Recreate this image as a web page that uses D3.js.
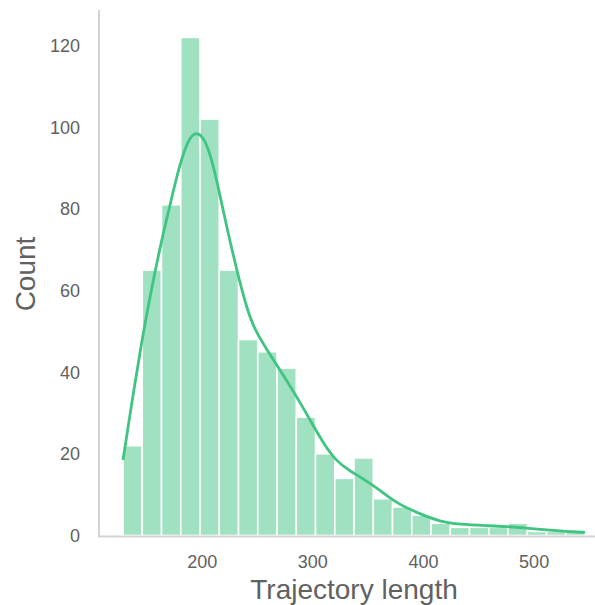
<!DOCTYPE html>
<meta charset="utf-8">

<!-- Load d3.js -->
<script src="https://d3js.org/d3.v7.min.js"></script>

<!-- Create a div where the graph will take place -->
<div id="my_dataviz"></div>

<style>
  body { margin: 0; background: #fff; }
  #my_dataviz { font-family: 'Liberation Sans', Arial, Helvetica, sans-serif; }
  .tick-label { fill: #616161; font-size: 18px; }
  .axis-title { fill: #616161; font-size: 28px; }
</style>

<script>

// histogram bins (trajectory length)
var binStart = 128.4
var binWidth = 17.4
var counts = [22, 65, 81, 122, 102, 65, 48, 45, 41, 29, 20, 14,
              19, 9, 7, 5, 3, 2, 2, 2, 3, 1, 1, 1]

// kde curve
var kdeX = [128.4, 136.3, 145.3, 152.8, 161.9, 170.9, 179.9, 187.4, 193.5, 201.0,
            207.0, 213.1, 222.1, 231.2, 240.2, 247.7, 258.3, 270.3, 285.4,
            297.5, 309.4, 321.5, 333.5, 345.6, 360.6, 375.7, 396.7, 414.8, 432.8,
            457.1, 475.1, 493.2, 511.3, 529.4, 545.9]
var kdeY = [18.5, 32.5, 47.5, 58.5, 70.7, 81.0, 91.2, 96.9, 98.9, 97.7,
            93.6, 87.1, 75.6, 65.0, 55.6, 50.2, 45.6, 40.5, 34.0,
            28.3, 22.6, 18.1, 15.8, 13.9, 11.1, 7.9, 5.3, 3.4, 2.7,
            2.4, 2.2, 1.8, 1.35, 1.0, 0.75]

// tick labels
var xTicks = [200, 300, 400, 500]
var yTicks = [0, 20, 40, 60, 80, 100, 120]

var lineColor = "#40c482"
var barColor = "#a0e1c1"

var width = 595, height = 605

var svg = d3.select("#my_dataviz")
  .append("svg")
    .attr("width", width)
    .attr("height", height)

// scales
var x = d3.scaleLinear()
  .domain([106.7, 555])
  .range([99, 595])
var y = d3.scaleLinear()
  .domain([0, 128.7])
  .range([535.5, 10])

// bars
var bins = counts.map(function(c, i) {
  return {x0: binStart + i * binWidth, x1: binStart + (i + 1) * binWidth, n: c}
})
svg.append("g")
  .selectAll("rect")
  .data(bins)
  .enter()
  .append("rect")
    .attr("x", function(d) { return x(d.x0) })
    .attr("width", function(d) { return x(d.x1) - x(d.x0) })
    .attr("y", function(d) { return y(d.n) })
    .attr("height", function(d) { return y(0) - y(d.n) })
    .style("fill", barColor)
    .style("stroke", "#fff")
    .style("stroke-width", 1.6)

// kde line
var kde = kdeX.map(function(v, i) { return [v, kdeY[i]] })
svg.append("path")
  .datum(kde)
  .attr("d", d3.line()
    .x(function(d) { return x(d[0]) })
    .y(function(d) { return y(d[1]) })
    .curve(d3.curveBasis))
  .style("fill", "none")
  .style("stroke", lineColor)
  .style("stroke-width", 2.8)

// spines (left + bottom only)
svg.append("line")
  .attr("x1", 99).attr("x2", 99)
  .attr("y1", y.range()[1]).attr("y2", y(0) + 1)
  .style("stroke", "#d3d3d3").style("stroke-width", 2)
svg.append("line")
  .attr("x1", 98).attr("x2", 595)
  .attr("y1", y(0) + 1).attr("y2", y(0) + 1)
  .style("stroke", "#d3d3d3").style("stroke-width", 2)

// tick labels, no tick marks
svg.selectAll("ylab")
  .data(yTicks)
  .enter()
  .append("text")
    .attr("class", "tick-label")
    .attr("x", 80)
    .attr("y", function(d) { return y(d) })
    .attr("dy", "0.36em")
    .attr("text-anchor", "end")
    .text(function(d) { return d })

svg.selectAll("xlab")
  .data(xTicks)
  .enter()
  .append("text")
    .attr("class", "tick-label")
    .attr("x", function(d) { return x(d) })
    .attr("y", 568)
    .attr("text-anchor", "middle")
    .text(function(d) { return d })

// axis titles
svg.append("text")
  .attr("class", "axis-title")
  .attr("text-anchor", "middle")
  .attr("transform", "translate(35,274) rotate(-90)")
  .text("Count")

svg.append("text")
  .attr("class", "axis-title")
  .attr("text-anchor", "middle")
  .attr("x", 354)
  .attr("y", 599)
  .text("Trajectory length")

</script>
